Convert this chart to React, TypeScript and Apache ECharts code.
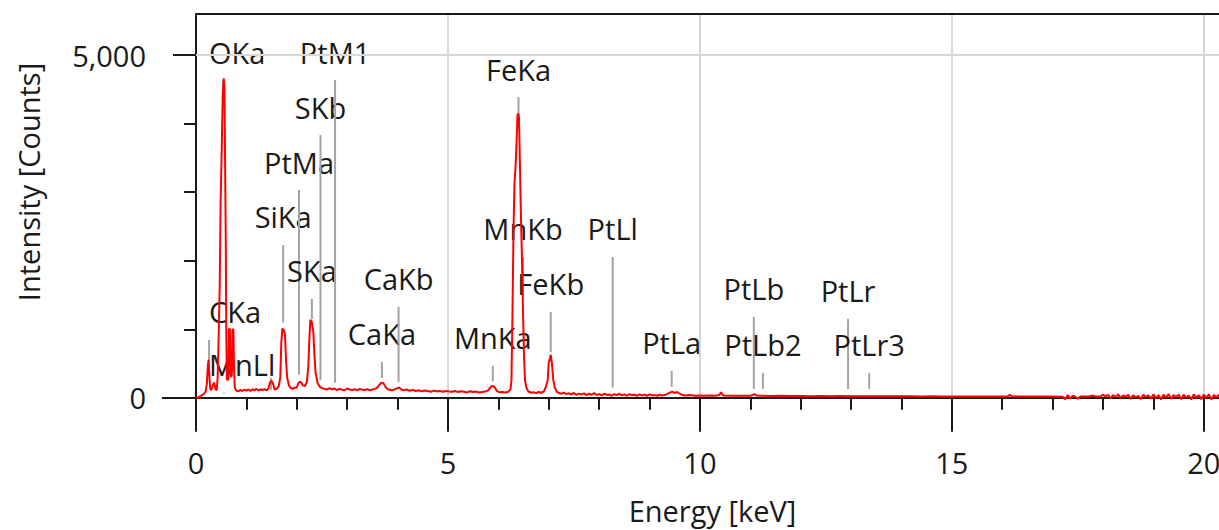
import { useEffect, useRef } from 'react';
import * as echarts from 'echarts';

// Spectrum: [energy keV, counts]
const spectrumLow: [number, number][] = [
  [0, 0], [0.04, 5], [0.08, 20], [0.12, 40], [0.16, 60], [0.19, 90], [0.215, 200], [0.235, 470], [0.25, 555],
  [0.265, 330], [0.28, 150], [0.3, 110], [0.33, 170], [0.36, 225], [0.385, 130], [0.41, 110], [0.43, 300],
  [0.45, 900], [0.47, 1600], [0.49, 2900], [0.51, 3600], [0.53, 4400], [0.55, 4660], [0.565, 4500], [0.58, 3200],
  [0.59, 2400], [0.6, 1040], [0.612, 270], [0.63, 260], [0.645, 280], [0.652, 1000], [0.672, 1010], [0.685, 350],
  [0.7, 300], [0.715, 400], [0.722, 995], [0.742, 1000], [0.755, 420], [0.77, 150], [0.8, 105], [0.84, 95],
  [0.88, 115], [0.92, 100], [0.96, 118], [1.0, 105], [1.04, 122], [1.08, 100], [1.12, 126], [1.16, 110],
  [1.2, 130], [1.24, 106], [1.28, 122], [1.32, 114], [1.36, 127], [1.4, 110], [1.44, 140], [1.47, 228],
  [1.5, 248], [1.53, 205], [1.56, 122], [1.6, 132], [1.64, 165], [1.673, 300], [1.693, 800], [1.713, 1010],
  [1.74, 990], [1.766, 930], [1.786, 550], [1.81, 290], [1.845, 180], [1.88, 142], [1.92, 133], [1.96, 147],
  [2.0, 152], [2.03, 212], [2.06, 238], [2.09, 224], [2.12, 182], [2.16, 172], [2.2, 225], [2.229, 457],
  [2.249, 845], [2.269, 1140], [2.295, 1112], [2.328, 966], [2.348, 651], [2.374, 360], [2.414, 214],
  [2.46, 160], [2.5, 140],
];

const spectrumMid: [number, number][] = [
  [2.55, 131], [2.6, 121], [2.65, 142], [2.7, 124], [2.75, 136], [2.8, 114], [2.85, 131], [2.9, 119],
  [2.95, 110], [3.0, 136], [3.05, 121], [3.1, 114], [3.15, 126], [3.2, 109], [3.25, 131], [3.3, 119],
  [3.35, 114], [3.4, 126], [3.45, 109], [3.5, 121], [3.55, 131], [3.6, 150], [3.64, 192], [3.68, 222],
  [3.72, 214], [3.76, 160], [3.8, 126], [3.85, 119], [3.9, 109], [3.95, 126], [4.0, 141], [4.03, 150],
  [4.07, 124], [4.12, 109], [4.18, 121], [4.24, 104], [4.3, 116], [4.36, 99], [4.42, 111], [4.48, 94],
  [4.54, 106], [4.6, 99], [4.66, 89], [4.72, 106], [4.78, 94], [4.84, 101], [4.9, 89], [4.96, 101],
  [5.02, 94], [5.08, 89], [5.14, 101], [5.2, 84], [5.26, 96], [5.32, 89], [5.38, 79], [5.44, 96],
  [5.5, 84], [5.56, 91], [5.62, 79], [5.68, 86], [5.74, 91], [5.8, 110], [5.85, 160], [5.89, 176],
  [5.93, 150], [5.97, 100], [6.02, 80], [6.08, 86], [6.14, 79], [6.2, 90], [6.24, 120], [6.26, 250],
  [6.28, 1200], [6.3, 2400], [6.32, 3130], [6.34, 3350], [6.36, 3700], [6.38, 4120], [6.395, 4150],
  [6.41, 4080], [6.43, 3350], [6.45, 2600], [6.47, 2000], [6.49, 1250], [6.51, 600], [6.53, 250],
  [6.56, 140], [6.6, 90], [6.65, 74], [6.7, 81], [6.75, 69], [6.8, 86], [6.85, 74], [6.9, 91], [6.94, 150],
  [6.98, 262], [7.0, 510], [7.04, 627], [7.063, 510], [7.09, 262], [7.12, 150], [7.16, 90], [7.2, 70],
  [7.25, 61], [7.3, 76], [7.35, 54], [7.4, 66], [7.45, 49], [7.5, 71], [7.55, 44], [7.6, 61],
];

const spectrumHigh: [number, number][] = [
  [7.65, 50], [7.7, 65], [7.75, 40], [7.8, 60], [7.85, 45], [7.9, 70], [7.95, 40], [8.0, 55], [8.05, 35],
  [8.1, 60], [8.15, 45], [8.2, 50], [8.25, 30], [8.3, 55], [8.35, 40], [8.4, 60], [8.45, 35], [8.5, 50],
  [8.55, 30], [8.6, 55], [8.65, 40], [8.7, 45], [8.75, 30], [8.8, 50], [8.85, 35], [8.9, 45], [8.95, 30],
  [9.0, 50], [9.05, 35], [9.1, 40], [9.15, 30], [9.2, 45], [9.25, 35], [9.3, 40], [9.35, 55], [9.4, 75],
  [9.45, 90], [9.5, 70], [9.55, 85], [9.6, 60], [9.65, 40], [9.7, 35], [9.8, 40], [9.9, 30], [10.0, 35],
  [10.1, 30], [10.2, 35], [10.3, 30], [10.38, 40], [10.42, 80], [10.46, 35], [10.6, 30], [10.8, 32],
  [11.0, 30], [11.04, 40], [11.08, 55], [11.12, 35], [11.2, 30], [11.4, 28], [11.6, 30], [11.8, 27],
  [12.0, 28], [12.2, 25], [12.4, 27], [12.6, 25], [12.8, 26], [13.0, 24], [13.2, 25], [13.4, 23],
  [13.6, 24], [13.8, 22], [14.0, 23], [14.2, 22], [14.4, 21], [14.6, 22], [14.8, 20], [15.0, 21],
  [15.2, 20], [15.4, 21], [15.6, 19], [15.8, 20], [16.0, 20], [16.1, 18], [16.15, 45], [16.2, 18],
  [16.4, 20], [16.6, 18], [16.8, 20], [17.0, 18], [17.2, 16], [17.25, -20], [17.3, 40], [17.35, -10],
  [17.4, 30], [17.45, 18], [17.5, -15], [17.55, 20], [17.7, 18], [17.8, 30], [17.85, 18], [17.95, 20],
  [18.0, 50], [18.05, 20], [18.1, 45], [18.15, -10], [18.2, 40], [18.25, 10], [18.3, 50], [18.35, 0],
  [18.4, 35], [18.45, 15], [18.5, 45], [18.55, -15], [18.6, 40], [18.65, 5], [18.7, 30], [18.75, -20],
  [18.8, 45], [18.85, 10], [18.9, 35], [18.95, -10], [19.0, 50], [19.05, 0], [19.1, 40], [19.15, -25],
  [19.2, 45], [19.25, 5], [19.3, 55], [19.35, -15], [19.4, 40], [19.45, 10], [19.5, 50], [19.55, -20],
  [19.6, 45], [19.65, 0], [19.7, 35], [19.75, -25], [19.8, 50], [19.85, 5], [19.9, 40], [19.95, -20],
  [20.0, 45], [20.05, 0], [20.1, 50], [20.15, -25], [20.2, 40], [20.25, 10], [20.3, 45], [20.35, -20],
  [20.4, 35], [20.45, 5], [20.5, 30],
];

// Element line markers
const markerNames = [
  'CKa', 'OKa', 'MnLl', '', 'SiKa', 'PtMa', 'SKa', 'SKb', 'PtM1', 'CaKa', 'CaKb',
  'MnKa', 'FeKa', 'MnKb', 'FeKb', 'PtLl', 'PtLa', 'PtLb', 'PtLb2', 'PtLr', 'PtLr3',
];
const markerEnergy = [
  0.26, 0.535, 0.556, 1.49, 1.73, 2.044, 2.3, 2.47, 2.76, 3.69, 4.02,
  5.89, 6.4, 6.49, 7.04, 8.27, 9.44, 11.07, 11.25, 12.94, 13.36,
];
const markerTop = [
  845, 4636, 75, 292, 2230, 3032, 1443, 3834, 4636, 525, 1327,
  466, 4388, 2055, 1254, 2055, 394, 1181, 364, 1152, 364,
];
const markerBottom = [
  510, 4344, 60, 117, 1100, 340, 1150, 260, 220, 290, 230,
  240, 4100, 1470, 670, 150, 160, 130, 130, 130, 130,
];
const leftPinnedLabels = ['CKa', 'OKa', 'MnLl'];

const xMajorTicks = [0, 5, 10, 15, 20];
const xMinorTicks = [1, 2, 3, 4, 6, 7, 8, 9, 11, 12, 13, 14, 16, 17, 18, 19];
const yLabelValues = [0, 5000];
const yMinorTicks = [1000, 2000, 3000, 4000];

const FONT = '"Open Sans", "Noto Sans", sans-serif';
const FS = 29;
const TEXT = '#1a1a1a';
const AXIS = '#1a1a1a';
const GRIDC = '#d8d8d8';
const Y_MIN = -440;
const Y_MAX = 5600;
const X_MAX = 20.5;

export default function App() {
  const ref = useRef<HTMLDivElement>(null);
  useEffect(() => {
    if (!ref.current) return;
    const chart = echarts.init(ref.current, undefined, { renderer: 'svg' });
    const spectrum = [...spectrumLow, ...spectrumMid, ...spectrumHigh];
    const markers = markerNames.map((n, i) => ({
      name: n,
      value: [markerEnergy[i], markerTop[i], markerBottom[i]],
    }));
    const tickLine = { color: AXIS, width: 2 };
    const yBase = { type: 'value', min: Y_MIN, max: Y_MAX, position: 'left', splitLine: { show: false } };
    const xBase = { type: 'value', min: 0, max: X_MAX };
    chart.setOption({
      animation: false,
      textStyle: { fontFamily: FONT },
      grid: { left: 196, top: 14, right: 11, bottom: 102, containLabel: false, outerBoundsMode: 'none' },
      xAxis: [
        {
          ...xBase,
          interval: 5,
          position: 'bottom',
          axisLine: { show: true, onZero: true, onZeroAxisIndex: 0, lineStyle: tickLine },
          axisTick: { show: true, customValues: xMajorTicks, length: 34, lineStyle: tickLine },
          axisLabel: { customValues: xMajorTicks, margin: 20, fontSize: FS, color: TEXT, fontFamily: FONT },
          splitLine: { show: true, lineStyle: { color: GRIDC, width: 2 } },
          name: 'Energy [keV]',
          nameLocation: 'middle',
          nameGap: 68,
          nameTextStyle: { fontSize: FS, color: TEXT, fontFamily: FONT },
        },
        {
          ...xBase,
          position: 'bottom',
          axisLine: { show: false, onZero: true, onZeroAxisIndex: 0 },
          axisTick: { show: true, customValues: xMinorTicks, length: 12, lineStyle: tickLine },
          axisLabel: { show: false },
          splitLine: { show: false },
        },
        {
          ...xBase,
          position: 'top',
          axisLine: { show: true, onZero: false, lineStyle: tickLine },
          axisTick: { show: false },
          axisLabel: { show: false },
          splitLine: { show: false },
        },
      ],
      yAxis: [
        {
          ...yBase,
          axisLine: { show: true, lineStyle: tickLine },
          axisTick: { show: true, customValues: [5000], length: 23, lineStyle: tickLine },
          axisLabel: {
            customValues: yLabelValues,
            margin: 50,
            fontSize: FS,
            color: TEXT,
            fontFamily: FONT,
            formatter: (v: number) => v.toLocaleString('en-US'),
          },
        },
        {
          ...yBase,
          axisLine: { show: false },
          axisTick: { show: true, customValues: yMinorTicks, length: 12, lineStyle: tickLine },
          axisLabel: { show: false },
        },
        {
          ...yBase,
          axisLine: { show: false },
          axisTick: { show: true, customValues: [0], length: 34, lineStyle: tickLine },
          axisLabel: { show: false },
        },
      ],
      graphic: [
        {
          type: 'text',
          x: 28,
          y: 182,
          rotation: Math.PI / 2,
          style: {
            text: 'Intensity [Counts]',
            fill: TEXT,
            fontSize: FS,
            fontFamily: FONT,
            align: 'center',
            verticalAlign: 'middle',
          },
        },
      ],
      series: [
        {
          type: 'custom',
          xAxisIndex: 0,
          yAxisIndex: 0,
          z: 2,
          silent: true,
          data: markers,
          renderItem: (params: any, api: any) => {
            const e = api.value(0);
            const top = api.value(1);
            const bottom = api.value(2);
            const pTop = api.coord([e, top]);
            const pBot = api.coord([e, bottom]);
            const label = markerNames[params.dataIndex];
            const pinned = leftPinnedLabels.indexOf(label) >= 0;
            const leftEdge = api.coord([0, 0])[0] + 13;
            return {
              type: 'group',
              children: [
                {
                  type: 'line',
                  shape: { x1: pBot[0], y1: pBot[1], x2: pTop[0], y2: pTop[1] },
                  style: { stroke: '#a3a3a3', lineWidth: 2 },
                },
                {
                  type: 'text',
                  x: pinned ? leftEdge : pTop[0],
                  y: pTop[1] - 28,
                  style: {
                    text: label,
                    fill: TEXT,
                    fontSize: FS,
                    fontFamily: FONT,
                    align: pinned ? 'left' : 'center',
                    verticalAlign: 'middle',
                  },
                },
              ],
            };
          },
        },
        {
          type: 'line',
          xAxisIndex: 0,
          yAxisIndex: 0,
          z: 3,
          data: spectrum,
          showSymbol: false,
          symbol: 'none',
          lineStyle: { color: '#ff0000', width: 2 },
          silent: true,
          markLine: {
            silent: true,
            symbol: ['none', 'none'],
            label: { show: false },
            lineStyle: { color: GRIDC, width: 2, type: 'solid' },
            data: [{ yAxis: 5000 }],
          },
        },
      ],
    });
    return () => chart.dispose();
  }, []);
  return (
    <div style={{ position: 'fixed', left: 0, top: 0, width: 1219, height: 530, overflow: 'hidden', background: '#fff' }}>
      <div ref={ref} style={{ width: 1240, height: 530 }} />
    </div>
  );
}
